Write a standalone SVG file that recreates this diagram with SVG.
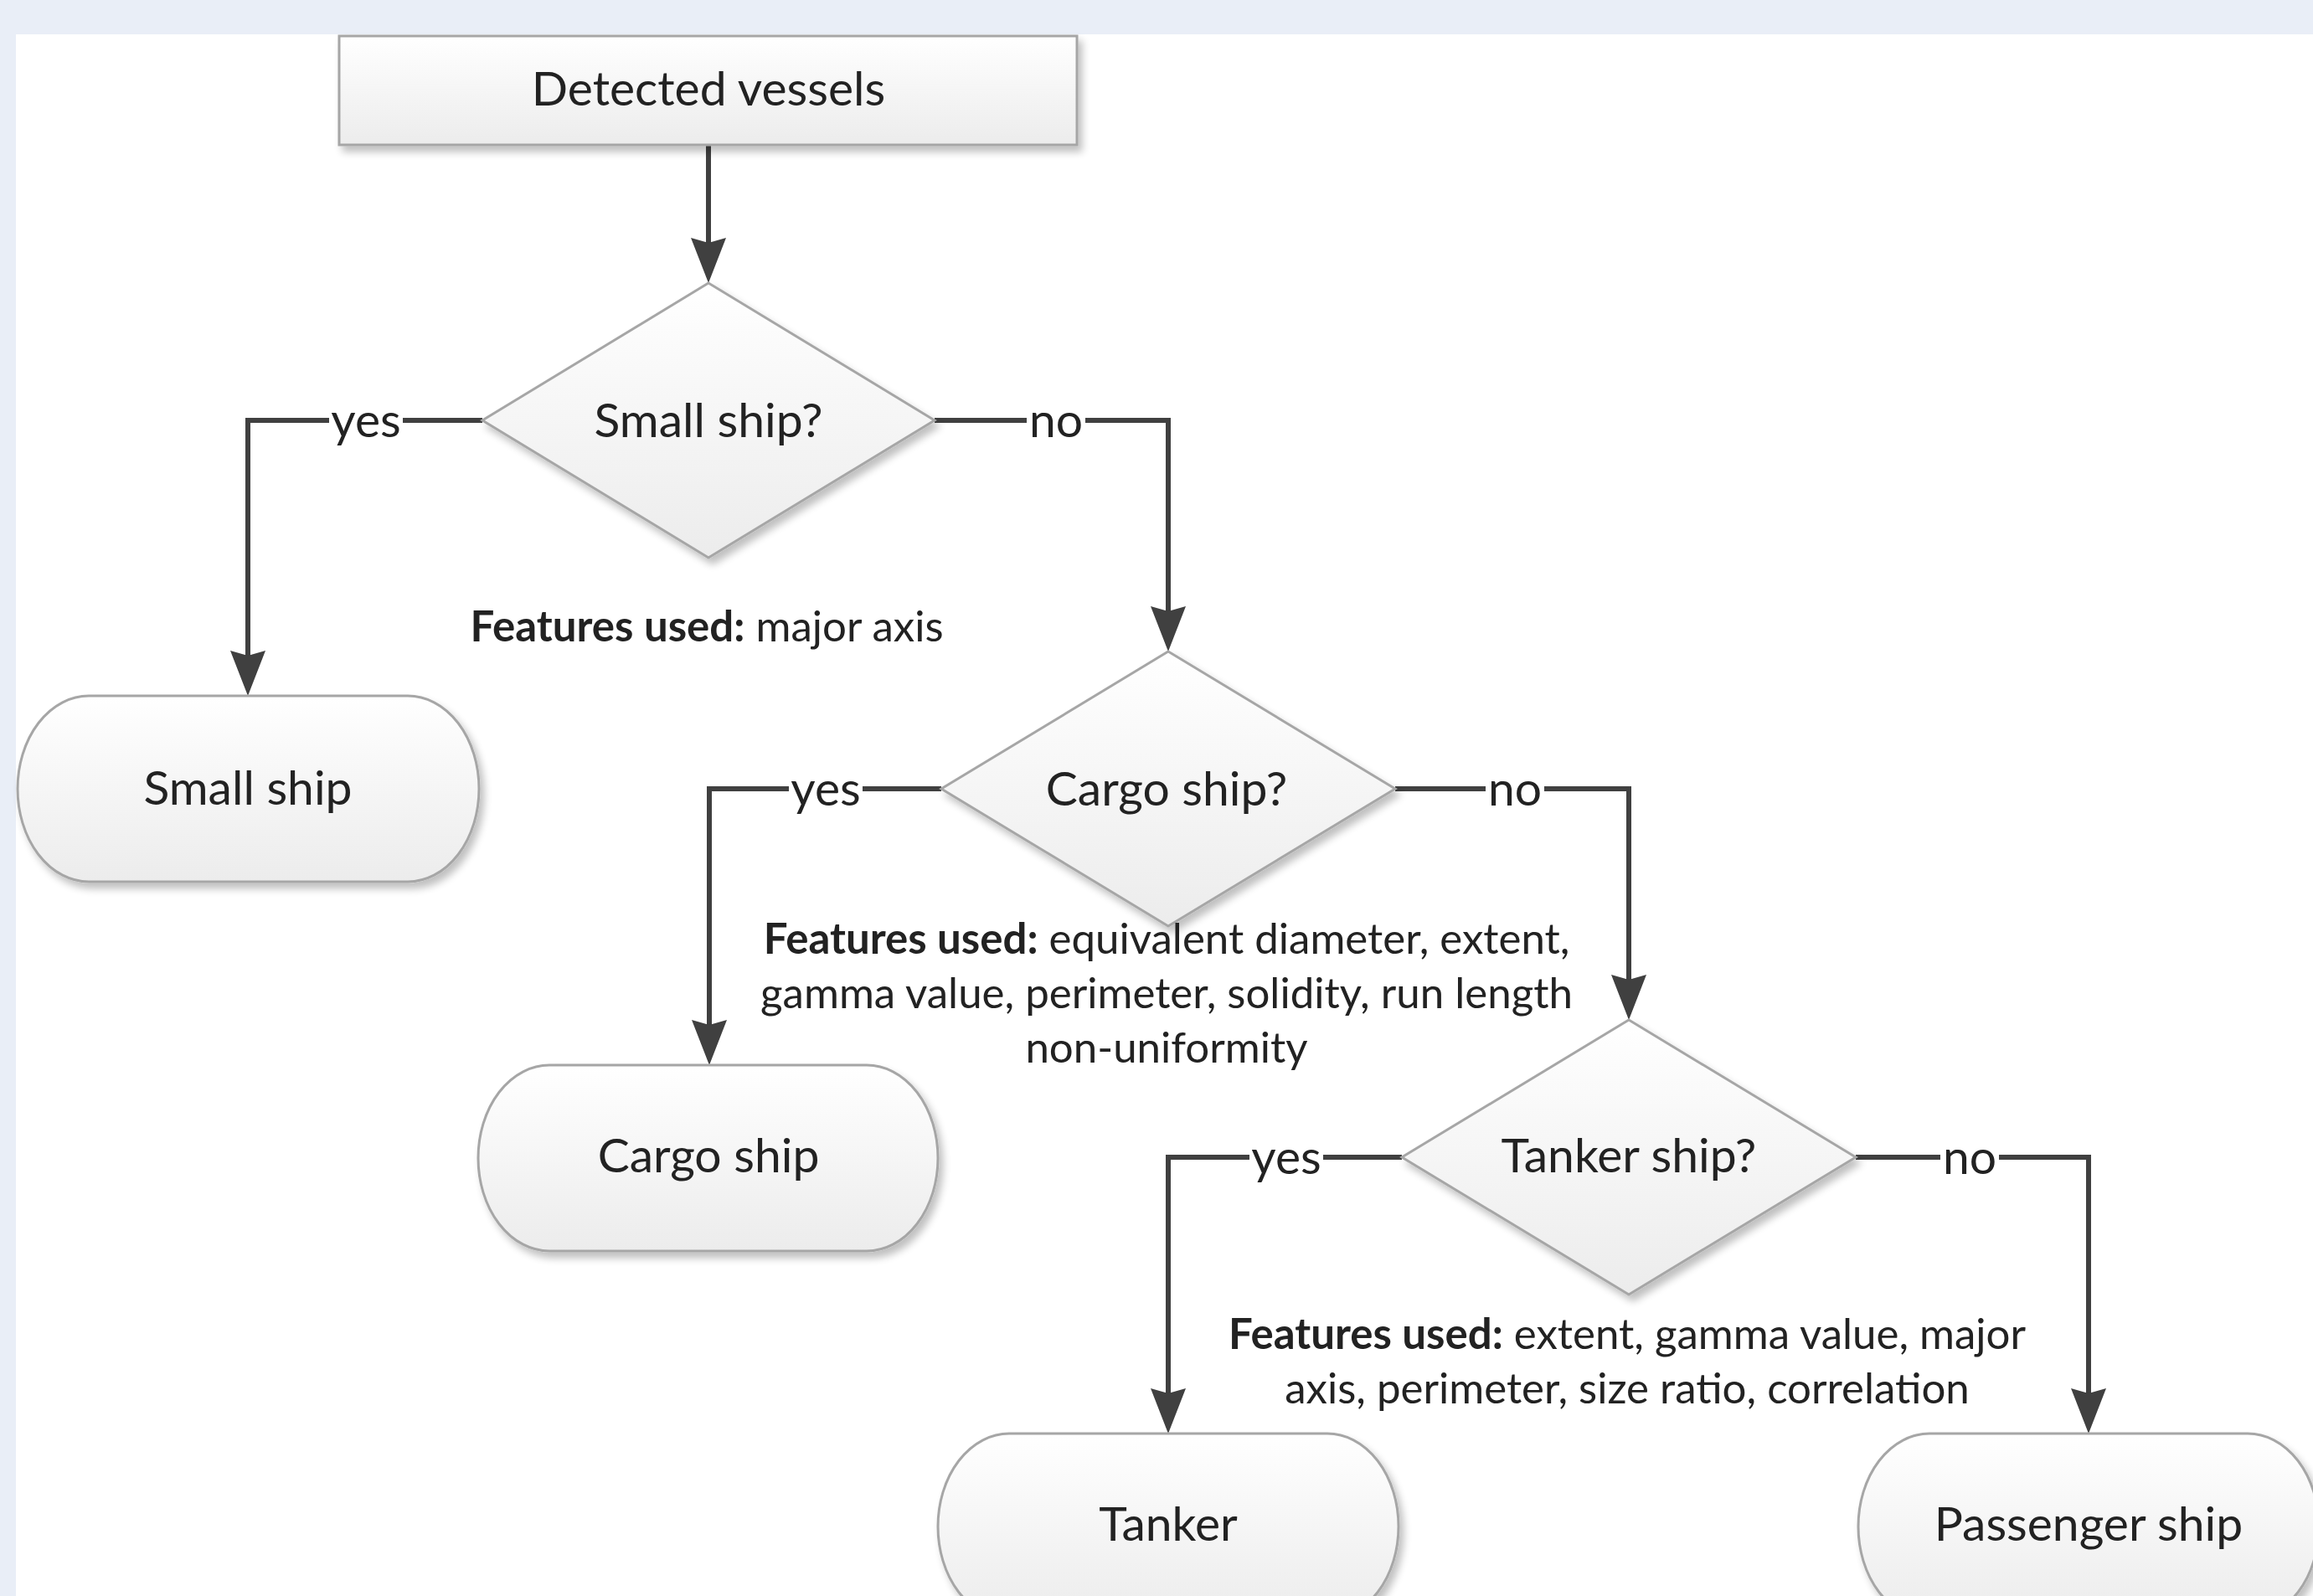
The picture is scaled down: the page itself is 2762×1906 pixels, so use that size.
<svg xmlns="http://www.w3.org/2000/svg" width="2762" height="1906" viewBox="0 0 2762 1906">
<defs>
<linearGradient id="gFill" x1="0" y1="0" x2="0" y2="1">
<stop offset="0" stop-color="#ffffff"/>
<stop offset="1" stop-color="#ececec"/>
</linearGradient>
<filter id="sh" x="-10%" y="-10%" width="125%" height="130%">
<feGaussianBlur in="SourceAlpha" stdDeviation="5"/>
<feOffset dx="5" dy="7" result="b"/>
<feComponentTransfer><feFuncA type="linear" slope="0.25"/></feComponentTransfer>
<feMerge><feMergeNode/><feMergeNode in="SourceGraphic"/></feMerge>
</filter>
<marker id="arr" viewBox="0 -24 56 48" refX="32" refY="0" markerWidth="56" markerHeight="48" markerUnits="userSpaceOnUse" orient="auto">
<path d="M0,-21 L54,0 L0,21 L6,0 Z" fill="#404040"/>
</marker>
</defs>
<style>
.shape{fill:url(#gFill);stroke:#a6a6a6;stroke-width:3;filter:url(#sh)}
.lbl{font-family:Lato,"Open Sans","Liberation Sans",sans-serif;font-size:57px;fill:#222222;text-anchor:middle}
.feat{font-family:Lato,"Open Sans","Liberation Sans",sans-serif;font-size:51px;fill:#222222;text-anchor:middle}
.b{font-weight:bold}
.conn{fill:none;stroke:#404040;stroke-width:6;marker-end:url(#arr)}
.gap{fill:#ffffff}
</style>
<rect x="0" y="0" width="2762" height="1906" fill="#e9eef7"/>
<rect x="19" y="41" width="2743" height="1865" fill="#ffffff"/>

<g id="connectors">
<path class="conn" d="M846,173 V316"/>
<path class="conn" d="M576,502 H296 V809"/>
<path class="conn" d="M1116,502 H1395 V756"/>
<path class="conn" d="M1124,942 H847 V1250"/>
<path class="conn" d="M1666,942 H1945 V1196"/>
<path class="conn" d="M1674,1382 H1395 V1690"/>
<path class="conn" d="M2216,1382 H2494 V1690"/>
<rect class="gap" x="393" y="480" width="88" height="44"/>
<text class="lbl" x="437" y="522">yes</text>
<rect class="gap" x="1226" y="480" width="70" height="44"/>
<text class="lbl" x="1261" y="522">no</text>
<rect class="gap" x="942" y="920" width="88" height="44"/>
<text class="lbl" x="986" y="962">yes</text>
<rect class="gap" x="1774" y="920" width="70" height="44"/>
<text class="lbl" x="1809" y="962">no</text>
<rect class="gap" x="1492" y="1360" width="88" height="44"/>
<text class="lbl" x="1536" y="1402">yes</text>
<rect class="gap" x="2317" y="1360" width="70" height="44"/>
<text class="lbl" x="2352" y="1402">no</text>
</g>

<g id="detected">
<rect class="shape" x="405" y="43" width="881" height="130"/>
<text class="lbl" x="846" y="126">Detected vessels</text>
</g>

<g id="q-small">
<polygon class="shape" points="846,338 1116,502 846,666 576,502"/>
<text class="lbl" x="846" y="522">Small ship?</text>
<text class="feat" x="844" y="766"><tspan class="b">Features used:</tspan> major axis</text>
</g>

<g id="small">
<rect class="shape" x="21" y="831" width="551" height="222" rx="85" ry="111"/>
<text class="lbl" x="296" y="961">Small ship</text>
</g>

<g id="q-cargo">
<polygon class="shape" points="1395,778 1666,942 1395,1106 1124,942"/>
<text class="lbl" x="1393" y="962">Cargo ship?</text>
<text class="feat" x="1393" y="1139"><tspan class="b">Features used:</tspan> equivalent diameter, extent,</text>
<text class="feat" x="1393" y="1204">gamma value, perimeter, solidity, run length</text>
<text class="feat" x="1393" y="1269">non-uniformity</text>
</g>

<g id="cargo">
<rect class="shape" x="571" y="1272" width="549" height="222" rx="85" ry="111"/>
<text class="lbl" x="846" y="1400">Cargo ship</text>
</g>

<g id="q-tanker">
<polygon class="shape" points="1945,1218 2216,1382 1945,1546 1674,1382"/>
<text class="lbl" x="1945" y="1400">Tanker ship?</text>
<text class="feat" x="1943" y="1611"><tspan class="b">Features used:</tspan> extent, gamma value, major</text>
<text class="feat" x="1943" y="1676">axis, perimeter, size ratio, correlation</text>
</g>

<g id="tanker">
<rect class="shape" x="1120" y="1712" width="550" height="222" rx="85" ry="111"/>
<text class="lbl" x="1395" y="1840">Tanker</text>
</g>

<g id="passenger">
<rect class="shape" x="2219" y="1712" width="550" height="222" rx="85" ry="111"/>
<text class="lbl" x="2494" y="1840">Passenger ship</text>
</g>
</svg>
